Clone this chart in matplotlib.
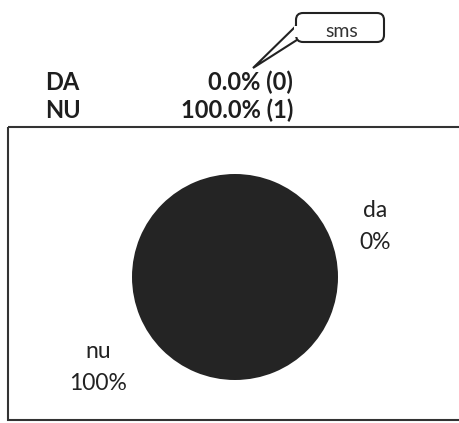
import matplotlib
matplotlib.use("Agg")
import matplotlib.pyplot as plt
from matplotlib.patches import Rectangle, FancyBboxPatch, Polygon

# data
categories = ["da", "nu"]
counts = [0, 1]
callout_text = "sms"

total = sum(counts)
shares = [c / total * 100 for c in counts]

plt.rcParams["font.family"] = ["Lato", "DejaVu Sans"]

fig = plt.figure(figsize=(4.59, 4.23), dpi=100)
ax = fig.add_axes([0, 0, 1, 1])

# pie
ax.pie(counts, colors=["#242424", "#242424"], center=(235, 277), radius=103,
       startangle=90, counterclock=False, frame=True, wedgeprops=dict(linewidth=0))
ax.set_xlim(0, 459)
ax.set_ylim(423, 0)
ax.set_aspect("equal")
ax.axis("off")

# summary table above the chart
for i, (cat, c, s) in enumerate(zip(categories, counts, shares)):
    y = 82 + i * 28
    ax.text(45, y, cat.upper(), fontsize=17, fontweight="bold", va="center", ha="left", color="#1e1e1e")
    ax.text(293, y, f"{s:.1f}% ({c})", fontsize=17, fontweight="bold", va="center", ha="right", color="#1e1e1e")

# callout bubble
ax.add_patch(Polygon([(297, 25), (253, 68), (300, 38)], closed=True,
                     facecolor="white", edgecolor="#222222", lw=1.5, zorder=3))
ax.add_patch(FancyBboxPatch((296, 13), 88, 29, boxstyle="round,pad=0,rounding_size=7",
                            facecolor="white", edgecolor="#222222", lw=1.5, zorder=4))
ax.add_patch(Rectangle((294, 26), 8, 11, facecolor="white", edgecolor="none", zorder=5))
ax.text(342, 31, callout_text, fontsize=14, ha="center", va="center", color="#333333", zorder=6)

# chart frame
ax.add_patch(Rectangle((8, 127), 470, 293, fill=False, edgecolor="#333333", lw=1.5, clip_on=False))

# data labels
label_pos = [(375, 226), (98, 368)]
for cat, s, (x, y) in zip(categories, shares, label_pos):
    ax.text(x, y - 16, cat, fontsize=16.5, ha="center", va="center", color="#222222")
    ax.text(x, y + 16, f"{s:.0f}%", fontsize=16.5, ha="center", va="center", color="#222222")

fig.savefig("out.png", dpi=100, facecolor="white")
